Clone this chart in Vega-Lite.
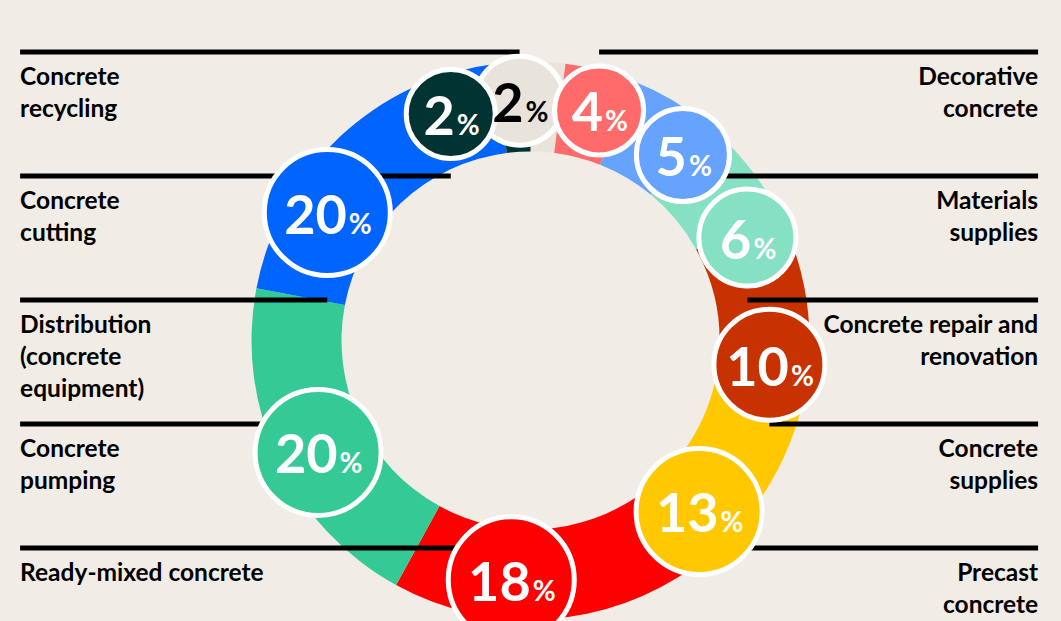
{
  "$schema": "https://vega.github.io/schema/vega-lite/v6.json",
  "width": 1061,
  "height": 561,
  "autosize": {"type": "none"},
  "padding": {"top": 60, "left": 0, "right": 0, "bottom": 0},
  "background": "#F2ECE7",
  "config": {"view": {"stroke": null}},
  "data": {"values": [
    {"category": "Concrete\nrecycling", "value": 2},
    {"category": "Decorative\nconcrete", "value": 4},
    {"category": "Materials\nsupplies", "value": 5},
    {"category": "Concrete repair and\nrenovation", "value": 6},
    {"category": "Concrete\nsupplies", "value": 10},
    {"category": "Precast\nconcrete", "value": 13},
    {"category": "Ready-mixed concrete", "value": 18},
    {"category": "Concrete\npumping", "value": 20},
    {"category": "Distribution\n(concrete\nequipment)", "value": 20},
    {"category": "Concrete\ncutting", "value": 2}
  ]},
  "transform": [
    {"window": [{"op": "row_number", "as": "idx"}]},
    {"calculate": "datum.value + 5", "as": "w"},
    {"joinaggregate": [{"op": "sum", "field": "w", "as": "W"}]},
    {"window": [{"op": "sum", "field": "w", "as": "cw"}], "sort": [{"field": "idx", "order": "ascending"}]},
    {"calculate": "2 * PI * (datum.cw - datum.w / 2) / datum.W - 11 * PI / 180", "as": "la"},
    {"calculate": "0.86 * sin(datum.la)", "as": "cx"},
    {"calculate": "0.86 * cos(datum.la)", "as": "cy"},
    {"calculate": "datum.cx < 0 ? 'left' : 'right'", "as": "side"},
    {"calculate": "datum.side == 'left' ? -1.828 : 1.818", "as": "xe"},
    {"window": [{"op": "row_number", "as": "row"}], "groupby": ["side"], "sort": [{"field": "cy", "order": "descending"}]},
    {"calculate": "datum.cx + (length(toString(datum.value)) * 31 - 23) / 2 / 279.2", "as": "xn"}
  ],
  "resolve": {"scale": {"y": "independent"}},
  "layer": [
    {
      "mark": {"type": "arc", "innerRadius": 189, "outerRadius": 279},
      "encoding": {
        "theta": {"field": "value", "type": "quantitative", "stack": true},
        "order": {"field": "idx", "type": "quantitative"},
        "color": {"field": "category", "type": "nominal", "legend": null,
          "scale": {
            "domain": ["Concrete\nrecycling", "Decorative\nconcrete", "Materials\nsupplies", "Concrete repair and\nrenovation", "Concrete\nsupplies", "Precast\nconcrete", "Ready-mixed concrete", "Concrete\npumping", "Distribution\n(concrete\nequipment)", "Concrete\ncutting"],
            "range": ["#E8E4DB", "#FF6B6B", "#66A3FF", "#86E0C4", "#C83200", "#FFC800", "#FF0000", "#35C995", "#0064FF", "#003331"]
          }}
      }
    },
    {
      "mark": {"type": "rule", "strokeWidth": 5, "color": "black"},
      "encoding": {
        "x": {"field": "xe", "type": "quantitative", "scale": {"domain": [-1.9, 1.9], "nice": false, "zero": false}, "axis": null},
        "x2": {"field": "cx"},
        "y": {"field": "row", "type": "quantitative", "scale": {"domain": [1, 5], "range": [-8, 488], "nice": false, "zero": false}, "axis": null}
      }
    },
    {
      "mark": {"type": "point", "shape": "circle", "filled": true, "opacity": 1, "stroke": "white", "strokeWidth": 5},
      "encoding": {
        "x": {"field": "cx", "type": "quantitative", "scale": {"domain": [-1.9, 1.9], "nice": false, "zero": false}, "axis": null},
        "y": {"field": "cy", "type": "quantitative", "scale": {"domain": [-1.0047, 1.0047], "nice": false, "zero": false}, "axis": null},
        "size": {"field": "value", "type": "quantitative", "legend": null,
          "scale": {"domain": [2, 4, 6, 10, 13], "range": [7921, 7921, 9409, 12321, 15876], "clamp": true}},
        "color": {"field": "category", "type": "nominal", "legend": null}
      }
    },
    {
      "mark": {"type": "text", "align": "right", "baseline": "alphabetic", "dy": 21, "font": "Lato", "fontWeight": "bold", "fontSize": 54},
      "encoding": {
        "x": {"field": "xn", "type": "quantitative", "scale": {"domain": [-1.9, 1.9], "nice": false, "zero": false}, "axis": null},
        "y": {"field": "cy", "type": "quantitative", "scale": {"domain": [-1.0047, 1.0047], "nice": false, "zero": false}, "axis": null},
        "text": {"field": "value", "type": "quantitative", "format": "d"},
        "color": {"condition": {"test": "indexof(datum.category, 'recycling') >= 0", "value": "black"}, "value": "white"}
      }
    },
    {
      "mark": {"type": "text", "align": "left", "baseline": "alphabetic", "dx": 2, "dy": 21, "font": "Lato", "fontWeight": "bold", "fontSize": 28},
      "encoding": {
        "x": {"field": "xn", "type": "quantitative", "scale": {"domain": [-1.9, 1.9], "nice": false, "zero": false}, "axis": null},
        "y": {"field": "cy", "type": "quantitative", "scale": {"domain": [-1.0047, 1.0047], "nice": false, "zero": false}, "axis": null},
        "text": {"value": "%"},
        "color": {"condition": {"test": "indexof(datum.category, 'recycling') >= 0", "value": "black"}, "value": "white"}
      }
    },
    {
      "transform": [{"filter": "datum.side == 'left'"}],
      "mark": {"type": "text", "align": "left", "baseline": "alphabetic", "dy": 33, "lineBreak": "\n", "lineHeight": 32, "font": "Lato", "fontWeight": "bold", "fontSize": 24.5, "color": "black"},
      "encoding": {
        "x": {"field": "xe", "type": "quantitative", "scale": {"domain": [-1.9, 1.9], "nice": false, "zero": false}, "axis": null},
        "y": {"field": "row", "type": "quantitative", "scale": {"domain": [1, 5], "range": [-8, 488], "nice": false, "zero": false}, "axis": null},
        "text": {"field": "category", "type": "nominal"}
      }
    },
    {
      "transform": [{"filter": "datum.side == 'right'"}],
      "mark": {"type": "text", "align": "right", "baseline": "alphabetic", "dy": 33, "lineBreak": "\n", "lineHeight": 32, "font": "Lato", "fontWeight": "bold", "fontSize": 24.5, "color": "black"},
      "encoding": {
        "x": {"field": "xe", "type": "quantitative", "scale": {"domain": [-1.9, 1.9], "nice": false, "zero": false}, "axis": null},
        "y": {"field": "row", "type": "quantitative", "scale": {"domain": [1, 5], "range": [-8, 488], "nice": false, "zero": false}, "axis": null},
        "text": {"field": "category", "type": "nominal"}
      }
    }
  ]
}
